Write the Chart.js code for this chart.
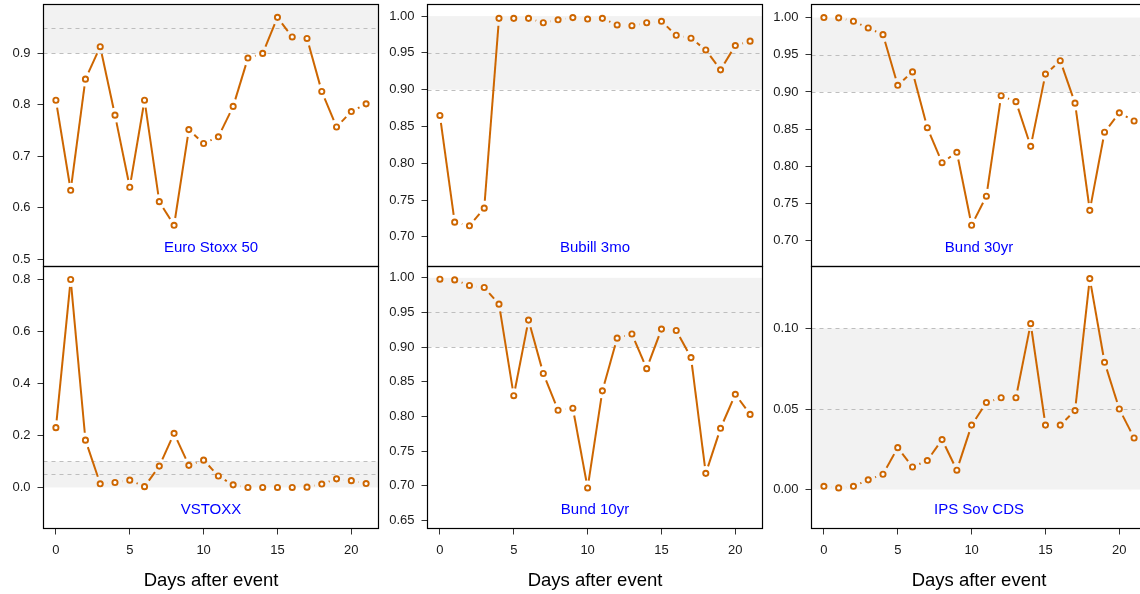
<!doctype html>
<html lang="en">
<head>
    <meta charset="UTF-8">
    <title>Days after event</title>
    <script src="https://cdn.jsdelivr.net/npm/chart.js"></script>
    <style>
        html, body { margin: 0; padding: 0; background: #fff; overflow: hidden; }
        #wrap { position: relative; width: 1140px; height: 594px; overflow: hidden; }
        #wrap canvas { position: absolute; }
    </style>
</head>
<body>
<div id="wrap"></div>
<script>
  const days = [0, 1, 2, 3, 4, 5, 6, 7, 8, 9, 10, 11, 12, 13, 14, 15, 16, 17, 18, 19, 20, 21];
  const xTicks = [0, 5, 10, 15, 20];

  const euroStoxx = [0.809, 0.634, 0.850, 0.913, 0.780, 0.640, 0.809, 0.612, 0.566, 0.752, 0.725,
    0.738, 0.797, 0.891, 0.900, 0.970, 0.932, 0.929, 0.826, 0.757, 0.787, 0.802];
  const bubill = [0.865, 0.720, 0.715, 0.739, 0.997, 0.997, 0.997, 0.991, 0.995, 0.998, 0.996,
    0.997, 0.988, 0.987, 0.991, 0.993, 0.974, 0.970, 0.954, 0.927, 0.960, 0.966];
  const bund30 = [1.000, 0.9996, 0.995, 0.986, 0.977, 0.909, 0.927, 0.852, 0.805, 0.819, 0.721,
    0.760, 0.895, 0.887, 0.827, 0.924, 0.942, 0.885, 0.741, 0.846, 0.872, 0.861];
  const vstoxx = [0.230, 0.800, 0.182, 0.014, 0.019, 0.028, 0.003, 0.082, 0.208, 0.085, 0.105,
    0.044, 0.010, 0.000, 0.000, 0.000, 0.000, 0.001, 0.013, 0.033, 0.026, 0.015];
  const bund10 = [0.998, 0.997, 0.989, 0.986, 0.962, 0.830, 0.939, 0.862, 0.809, 0.812, 0.697,
    0.837, 0.913, 0.919, 0.869, 0.926, 0.924, 0.885, 0.718, 0.783, 0.832, 0.803];
  const ipsCds = [0.002, 0.001, 0.002, 0.006, 0.0095, 0.026, 0.014, 0.018, 0.031, 0.012, 0.040,
    0.054, 0.057, 0.057, 0.103, 0.040, 0.040, 0.049, 0.131, 0.079, 0.050, 0.032];

  const names = ['Euro Stoxx 50', 'Bubill 3mo', 'Bund 30yr', 'VSTOXX', 'Bund 10yr', 'IPS Sov CDS'];
  const series = [euroStoxx, bubill, bund30, vstoxx, bund10, ipsCds];
  const yTicks = [
    [0.5, 0.6, 0.7, 0.8, 0.9],
    [0.70, 0.75, 0.80, 0.85, 0.90, 0.95, 1.00],
    [0.70, 0.75, 0.80, 0.85, 0.90, 0.95, 1.00],
    [0.0, 0.2, 0.4, 0.6, 0.8],
    [0.65, 0.70, 0.75, 0.80, 0.85, 0.90, 0.95, 1.00],
    [0.00, 0.05, 0.10]
  ];
  const yDecimals = [1, 2, 2, 1, 2, 2];
  const yRanges = [[0.486, 0.995], [0.6597, 1.0158], [0.6656, 1.0175],
    [-0.158, 0.85], [0.6385, 1.0163], [-0.0242, 0.1385]];
  const bands = [[0.9, 1], [0.9, 1], [0.9, 1], [0, 0.1], [0.9, 1], [0, 0.1]];
  const refLines = [[0.9, 0.95], [0.9, 0.95], [0.9, 0.95], [0.05, 0.1], [0.9, 0.95], [0.05, 0.1]];

  const orange = '#CD6600';
  const font = "'Liberation Sans', Arial, sans-serif";
  Chart.defaults.font.family = font;

  // R style type="b": segments with gaps round each point, band, dashed refs, box, label
  const rPlot = {
    id: 'rplot',
    beforeDatasetsDraw(chart, args, o) {
      const {ctx, chartArea: a, scales: {y}} = chart;
      ctx.save();
      ctx.beginPath();
      ctx.rect(a.left, a.top, a.width, a.height);
      ctx.clip();

      const yb0 = y.getPixelForValue(o.band[0]);
      const yb1 = y.getPixelForValue(o.band[1]);
      ctx.fillStyle = '#F2F2F2';
      ctx.fillRect(a.left, yb1, a.width, yb0 - yb1);

      ctx.strokeStyle = '#BEBEBE';
      ctx.lineWidth = 1;
      ctx.setLineDash([4, 4]);
      o.lines.forEach((v) => {
        const py = Math.round(y.getPixelForValue(v)) + 0.5;
        ctx.beginPath();
        ctx.moveTo(a.left, py);
        ctx.lineTo(a.right, py);
        ctx.stroke();
      });
      ctx.setLineDash([]);

      const pts = chart.getDatasetMeta(0).data;
      const gap = 7.4;
      ctx.strokeStyle = orange;
      ctx.lineWidth = 2;
      ctx.lineCap = 'butt';
      for (let i = 0; i < pts.length - 1; i++) {
        const p = pts[i], q = pts[i + 1];
        const dx = q.x - p.x, dy = q.y - p.y;
        const len = Math.sqrt(dx * dx + dy * dy);
        if (len <= 2 * gap) continue;
        const ux = dx / len, uy = dy / len;
        ctx.beginPath();
        ctx.moveTo(p.x + ux * gap, p.y + uy * gap);
        ctx.lineTo(q.x - ux * gap, q.y - uy * gap);
        ctx.stroke();
      }
      ctx.restore();
    },
    afterDraw(chart, args, o) {
      const {ctx, chartArea: a} = chart;
      ctx.save();
      ctx.strokeStyle = '#000';
      ctx.lineWidth = 1.2;
      ctx.strokeRect(a.left, a.top, a.width, a.height);

      ctx.fillStyle = '#0000FF';
      ctx.font = '15px ' + font;
      ctx.textAlign = 'center';
      ctx.textBaseline = 'middle';
      ctx.fillText(o.name, (a.left + a.right) / 2, a.bottom - 18.5);

      if (o.bottom) {
        ctx.fillStyle = '#000';
        ctx.font = '18.5px ' + font;
        ctx.fillText('Days after event', (a.left + a.right) / 2, a.bottom + 52);
      }
      ctx.restore();
    }
  };

  const wrap = document.getElementById('wrap');

  series.forEach((vals, i) => {
    const col = i % 3;
    const bottom = i >= 3;
    const canvas = document.createElement('canvas');
    const w = 384, h = bottom ? 332 : 272;
    canvas.width = w;
    canvas.height = h;
    canvas.style.width = w + 'px';
    canvas.style.height = h + 'px';
    canvas.style.left = (col * 384) + 'px';
    canvas.style.top = (bottom ? 262 : 0) + 'px';
    wrap.appendChild(canvas);

    new Chart(canvas, {
      type: 'scatter',
      data: {
        datasets: [{
          data: days.map((d, k) => ({x: d, y: vals[k]})),
          showLine: false,
          pointRadius: 2.6,
          pointHoverRadius: 2.6,
          pointBorderWidth: 1.9,
          borderColor: orange,
          backgroundColor: '#fff',
          clip: false
        }]
      },
      options: {
        responsive: false,
        animation: false,
        devicePixelRatio: 1,
        layout: {padding: {top: 4.5, right: 5.5, bottom: bottom ? 0 : 5.5, left: 0}},
        plugins: {
          legend: {display: false},
          tooltip: {enabled: false},
          rplot: {band: bands[i], lines: refLines[i], name: names[i], bottom: bottom}
        },
        scales: {
          x: {
            type: 'linear',
            min: -0.84,
            max: 21.84,
            display: bottom,
            afterBuildTicks: (s) => { s.ticks = xTicks.map((v) => ({value: v})); },
            afterFit: (s) => {
              s.height = bottom ? 65.5 : 0;
              s.paddingLeft = 0;
              s.paddingRight = 0;
            },
            border: {display: false},
            grid: {drawOnChartArea: false, drawTicks: true, tickLength: 6, color: '#333'},
            ticks: {color: '#1a1a1a', font: {size: 13}, padding: 8, maxRotation: 0}
          },
          y: {
            type: 'linear',
            min: yRanges[i][0],
            max: yRanges[i][1],
            afterBuildTicks: (s) => { s.ticks = yTicks[i].map((v) => ({value: v})); },
            afterFit: (s) => {
              s.width = 43.5;
              s.paddingTop = 0;
              s.paddingBottom = 0;
            },
            border: {display: false},
            grid: {drawOnChartArea: false, drawTicks: true, tickLength: 6, color: '#333'},
            ticks: {
              color: '#1a1a1a',
              font: {size: 13},
              padding: 7,
              callback: (v) => Number(v).toFixed(yDecimals[i])
            }
          }
        }
      },
      plugins: [rPlot]
    });
  });
</script>
</body>
</html>
